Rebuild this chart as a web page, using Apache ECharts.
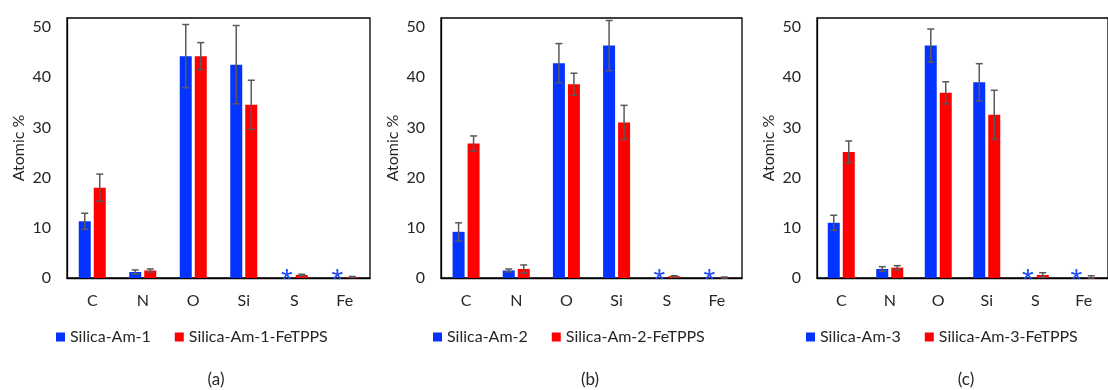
<!DOCTYPE html>
<html>
<head>
<meta charset="utf-8">
<script src="https://cdn.jsdelivr.net/npm/echarts@6/dist/echarts.min.js"></script>
<style>
html,body{margin:0;padding:0;background:#fff;}
#chart{width:1108px;height:390px;}
</style>
</head>
<body>
<div id="chart"></div>
<script>
// ---------- data ----------
const categories = ['C', 'N', 'O', 'Si', 'S', 'Fe'];
const yTickStep = 10;

// null = not detected (marked with *)
const am1      = [11.3, 1.2, 44.2, 42.5, null, null];
const am1Err   = [1.6, 0.4, 6.3, 7.8, null, null];
const am1Fe    = [18.0, 1.5, 44.2, 34.5, 0.6, 0.2];
const am1FeErr = [2.7, 0.3, 2.7, 4.9, 0.15, 0.1];

const am2      = [9.2, 1.5, 42.8, 46.3, null, null];
const am2Err   = [1.8, 0.3, 3.9, 5.0, null, null];
const am2Fe    = [26.8, 1.8, 38.6, 31.0, 0.35, 0.1];
const am2FeErr = [1.5, 0.8, 2.2, 3.4, 0.1, 0.1];

const am3      = [11.0, 1.8, 46.3, 39.0, null, null];
const am3Err   = [1.5, 0.45, 3.3, 3.7, null, null];
const am3Fe    = [25.1, 2.05, 36.9, 32.5, 0.6, 0.1];
const am3FeErr = [2.2, 0.4, 2.2, 4.9, 0.45, 0.35];

const seriesNames = [
  ['Silica-Am-1', 'Silica-Am-1-FeTPPS'],
  ['Silica-Am-2', 'Silica-Am-2-FeTPPS'],
  ['Silica-Am-3', 'Silica-Am-3-FeTPPS']
];
const panelLabels = ['(a)', '(b)', '(c)'];
const axisName = 'Atomic %';

// ---------- styling / layout ----------
const BLUE = '#0433ff', RED = '#ff0000', ERR = '#595959', TXT = '#262626';
const FONT = 'Lato, "Liberation Sans", sans-serif';
const panels = [
  {left: 67, width: 303, legendLeft: 56, vals: [am1, am1Fe], errs: [am1Err, am1FeErr]},
  {left: 441, width: 301, legendLeft: 433, vals: [am2, am2Fe], errs: [am2Err, am2FeErr]},
  {left: 817, width: 302, legendLeft: 806, vals: [am3, am3Fe], errs: [am3Err, am3FeErr]}
];
const BAR_W = 12, OFF = 7.5, CAP = 3.5;

const chart = echarts.init(document.getElementById('chart'), null, {renderer: 'canvas'});

const grid = [], xAxis = [], yAxis = [], series = [], legend = [], graphic = [];

function errRender(side) {
  return function (params, api) {
    const x = api.value(0), y = api.value(1), e = api.value(2);
    const hi = api.coord([x, y + e]);
    const lo = api.coord([x, Math.max(0, y - e)]);
    const cx = hi[0] + side * OFF;
    const style = {stroke: ERR, lineWidth: 1.5};
    return {
      type: 'group',
      children: [
        {type: 'line', shape: {x1: cx, y1: hi[1], x2: cx, y2: lo[1]}, style},
        {type: 'line', shape: {x1: cx - CAP, y1: hi[1], x2: cx + CAP, y2: hi[1]}, style},
        {type: 'line', shape: {x1: cx - CAP, y1: lo[1], x2: cx + CAP, y2: lo[1]}, style}
      ]
    };
  };
}

function starRender(params, api) {
  const p = api.coord([api.value(0), 0]);
  return {
    type: 'text',
    x: p[0] - OFF,
    y: p[1] + 3,
    style: {text: '*', fill: '#1f4dff', font: '30px "Liberation Sans", sans-serif', align: 'center', verticalAlign: 'middle'}
  };
}

panels.forEach((pn, i) => {
  grid.push({left: pn.left, top: 18, width: pn.width, height: 260, show: true,
             borderColor: '#000', borderWidth: 1.3, backgroundColor: 'transparent'});
  xAxis.push({
    type: 'category', gridIndex: i, data: categories,
    axisLine: {show: true, lineStyle: {color: '#000', width: 1.3}},
    axisTick: {show: false},
    axisLabel: {color: TXT, fontSize: 16, fontFamily: FONT, margin: 15, interval: 0},
    splitLine: {show: false}
  });
  yAxis.push({
    type: 'value', gridIndex: i, min: 0, max: 51.8, interval: yTickStep,
    name: axisName, nameLocation: 'middle', nameGap: 40,
    nameTextStyle: {color: TXT, fontSize: 16, fontFamily: FONT},
    axisLine: {show: true, lineStyle: {color: '#000', width: 1.3}},
    axisTick: {show: false},
    splitLine: {show: false},
    axisLabel: {color: TXT, fontSize: 16, fontFamily: FONT, margin: 16,
                formatter: v => (Math.abs(v % yTickStep) < 1e-9 ? String(v) : '')}
  });
  const colors = [BLUE, RED];
  [0, 1].forEach(s => {
    series.push({
      name: seriesNames[i][s], type: 'bar', xAxisIndex: i, yAxisIndex: i,
      data: pn.vals[s], barWidth: BAR_W, barGap: '25%',
      itemStyle: {color: colors[s]}, silent: true
    });
  });
  [0, 1].forEach(s => {
    const d = [];
    pn.vals[s].forEach((v, k) => { if (v != null && pn.errs[s][k] != null) d.push([k, v, pn.errs[s][k]]); });
    series.push({
      type: 'custom', xAxisIndex: i, yAxisIndex: i, renderItem: errRender(s === 0 ? -1 : 1),
      data: d, z: 5, silent: true, clip: false
    });
  });
  const stars = [];
  pn.vals[0].forEach((v, k) => { if (v == null) stars.push([k, 0]); });
  series.push({type: 'custom', xAxisIndex: i, yAxisIndex: i, renderItem: starRender,
               data: stars, z: 6, silent: true, clip: false});
  legend.push({
    data: seriesNames[i], left: pn.legendLeft, top: 329, padding: 0,
    icon: 'rect', itemWidth: 9, itemHeight: 9, itemGap: 24,
    textStyle: {color: TXT, fontSize: 16, fontFamily: FONT, padding: [0, 0, 0, 0]},
    selectedMode: false
  });
  graphic.push({type: 'text', x: pn.left + 149, y: 380,
                style: {text: panelLabels[i], fill: TXT, font: '17px ' + FONT, align: 'center', verticalAlign: 'middle'}});
});

chart.setOption({
  animation: false,
  grid, xAxis, yAxis, series, legend, graphic
});
</script>
</body>
</html>
